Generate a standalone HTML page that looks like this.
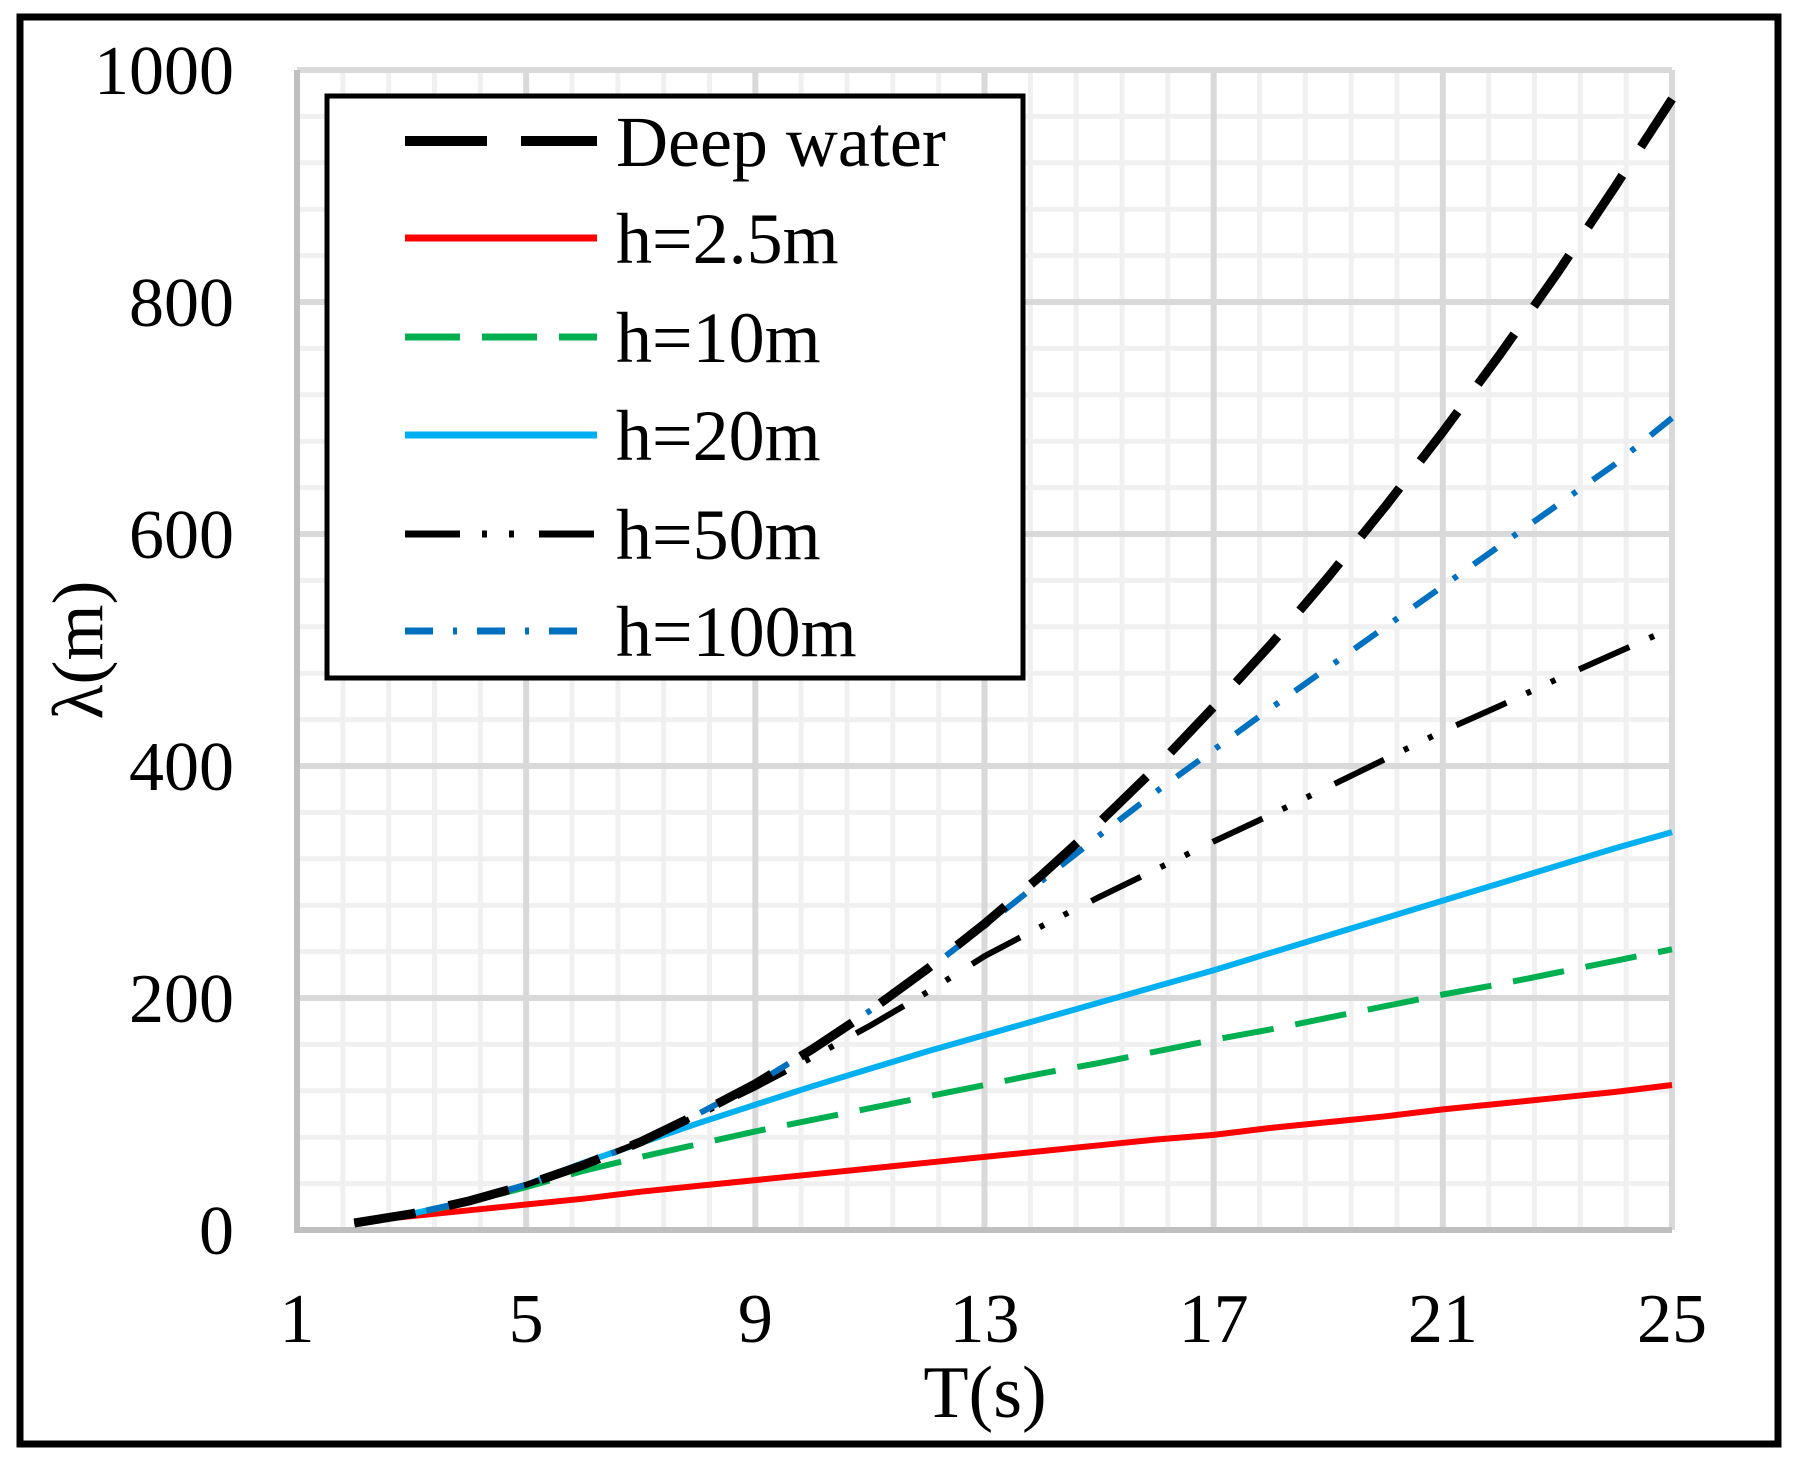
<!DOCTYPE html>
<html><head><meta charset="utf-8"><style>
html,body{margin:0;padding:0;background:#fff;}
svg{display:block;}
text{font-family:"Liberation Serif",serif;fill:#000;}
</style></head><body>
<svg id="chart" width="1797" height="1465" viewBox="0 0 1797 1465">
<rect x="20" y="17" width="1758" height="1427" fill="#fff" stroke="#000" stroke-width="7"/>
<g id="grid"></g>
<g id="axes"></g>
<g id="series"></g>
<text x="78" y="650" font-size="72" text-anchor="middle" transform="rotate(-90 78 650)" dominant-baseline="central">λ(m)</text>
<text x="985" y="1417" font-size="74" text-anchor="middle">T(s)</text>
<g id="legend"></g>
</svg>
<script>
const periods = [2,3,4,5,6,7,8,9,10,11,12,13,14,15,16,17,18,19,20,21,22,23,24,25];
const deepWater = [6,14,25,39,56,76,100,126,156,189,225,264,306,351,399,451,505,563,624,688,755,825,899,975];
const h2_5 = [7,12,17,22,27,33,38,43,48,53,58,63,68,73,78,82,88,93,98,104,109,114,119,125];
const h10 = [6,14,24,37,51,63,74,85,95,105,115,125,135,144,154,164,173,183,193,203,212,222,232,242];
const h20 = [6,14,25,39,58,75,92,108,124,139,154,168,182,196,210,224,239,254,269,284,299,314,329,343];
const h50 = [6,14,25,39,56,76,99,123,149,176,205,236,262,287,311,335,358,382,406,430,452,475,497,519];
const h100 = [6,14,25,39,56,76,100,126,156,189,224,262,301,340,378,414,450,485,520,555,590,625,660,700];
const xTicks = [1,5,9,13,17,21,25];
const yTicks = [0,200,400,600,800,1000];
const legendLabels = ["Deep water","h=2.5m","h=10m","h=20m","h=50m","h=100m"];

const NS="http://www.w3.org/2000/svg";
const X0=297,X1=1672,Y0=1230,Y1=70;
const xs=t=>X0+(t-1)/24*(X1-X0);
const ys=v=>Y0-v/1000*(Y0-Y1);
function mk(tag,attrs,parent){const e=document.createElementNS(NS,tag);for(const k in attrs)e.setAttribute(k,attrs[k]);parent.appendChild(e);return e;}
const grid=document.getElementById('grid'),axes=document.getElementById('axes'),series=document.getElementById('series'),legend=document.getElementById('legend');

for(let i=1;i<30;i++){const t=1+i*0.8;if(i%5===0)continue;
 const l=mk('line',{x1:xs(t),x2:xs(t),y1:Y1,y2:Y0,stroke:'#f0f0f0','stroke-width':5},grid);
 
 }
for(let i=1;i<25;i++){const v=i*40;if(i%5===0)continue;
 const l=mk('line',{x1:X0,x2:X1,y1:ys(v),y2:ys(v),stroke:'#f0f0f0','stroke-width':5},grid);
 
 }
xTicks.forEach(t=>{const l=mk('line',{x1:xs(t),x2:xs(t),y1:Y1,y2:Y0,stroke:'#d9d9d9','stroke-width':6},grid);
 
 
 const tx=mk('text',{x:xs(t),y:1342,'font-size':70,'text-anchor':'middle'},axes);tx.textContent=t;
 
 });
yTicks.forEach(v=>{const l=mk('line',{x1:X0,x2:X1,y1:ys(v),y2:ys(v),stroke:'#d9d9d9','stroke-width':6},grid);
 
 
 const tx=mk('text',{x:234,y:ys(v)+24,'font-size':70,'text-anchor':'end'},axes);tx.textContent=v;
 
 });
const ax1=mk('line',{x1:X0,x2:X0,y1:Y1,y2:Y0+3,stroke:'#bfbfbf','stroke-width':6},axes);


const ax2=mk('line',{x1:X0-3,x2:X1,y1:Y0,y2:Y0,stroke:'#bfbfbf','stroke-width':6},axes);



const styles=[
 {data:deepWater,color:'#000',w:9,dash:'62 34',name:'series-deep-water'},
 {data:h2_5,color:'#ff0000',w:6,dash:'',name:'series-h-2-5m'},
 {data:h10,color:'#00b050',w:6,dash:'52 22',name:'series-h-10m'},
 {data:h20,color:'#00b0f0',w:6,dash:'',name:'series-h-20m'},
 {data:h50,color:'#000',w:6,dash:'55 22 5 22 5 26',name:'series-h-50m'},
 {data:h100,color:'#0070c0',w:6,dash:'28 20 5 20',name:'series-h-100m'}
];
[1,2,3,4,5,0].forEach(i=>{const s=styles[i];
 const d=s.data.map((v,j)=>(j?'L':'M')+xs(periods[j]).toFixed(1)+' '+ys(v).toFixed(1)).join(' ');
 const p=mk('path',{d:d,fill:'none',stroke:s.color,'stroke-width':s.w,'stroke-dasharray':s.dash,'stroke-linejoin':'round'},series);
 
 });

const lb=mk('rect',{x:327,y:96,width:696,height:582,fill:'#fff',stroke:'#000','stroke-width':5},legend);


const ly=[141,238,337,435,534,631];
legendLabels.forEach((lab,i)=>{const s=styles[i];
 const g=mk('g',{},legend);
 
 
 const ls={0:'82 34',2:'55 22',4:'55 22 5 22 5 25',5:'28 20 4 20'}[i]||'';
 mk('line',{x1:405,x2:597,y1:ly[i],y2:ly[i],stroke:s.color,'stroke-width':i===0?10:7,'stroke-dasharray':ls},g);
 const t=mk('text',{x:616,y:ly[i]+25,'font-size':72},g);t.textContent=lab;});
</script>
</body></html>
